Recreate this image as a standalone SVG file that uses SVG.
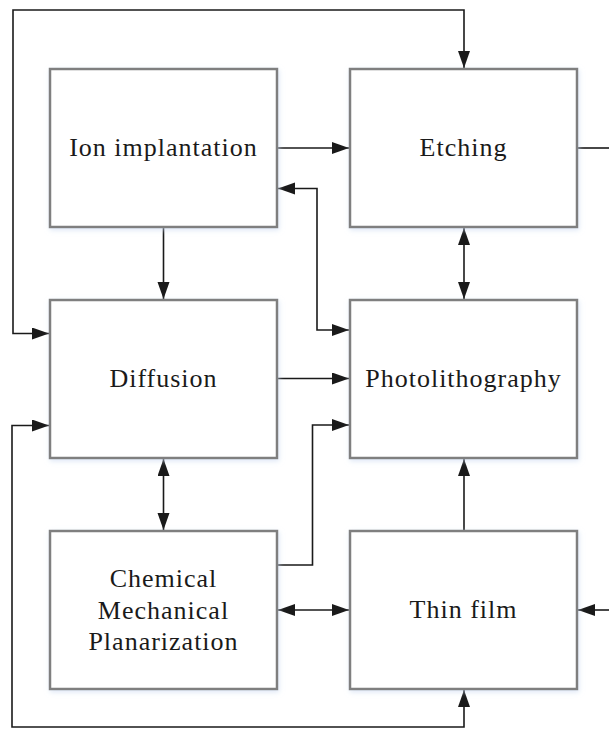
<svg xmlns="http://www.w3.org/2000/svg" width="609" height="729" viewBox="0 0 609 729">
<style>
.box{fill:#ffffff;stroke:#7f7f7f;stroke-width:2.5}
.lbl{font-family:"Liberation Serif","Times New Roman",Times,Tinos,"Noto Serif","DejaVu Serif",FreeSerif,serif;font-size:26px;letter-spacing:1px;fill:#1a1a1a;text-anchor:middle}
.c{fill:none;stroke:#1a1a1a;stroke-width:1.6}
.a{marker-end:url(#ah)}
.b{marker-start:url(#ah);marker-end:url(#ah)}
</style>
<defs>
<marker id="ah" markerUnits="userSpaceOnUse" markerWidth="18" markerHeight="13" refX="17" refY="6" orient="auto-start-reverse">
<path d="M0,0 L17,6 L0,12 z" fill="#1a1a1a"/>
</marker>
<filter id="sh" x="-10%" y="-10%" width="120%" height="120%">
<feGaussianBlur in="SourceAlpha" stdDeviation="2.5" result="b"/>
<feOffset dx="1" dy="2" result="o"/>
<feFlood flood-color="#c8d8f0" flood-opacity="0.6"/>
<feComposite in2="o" operator="in" result="s"/>
<feMerge><feMergeNode in="s"/><feMergeNode in="SourceGraphic"/></feMerge>
</filter>
</defs>
<g id="connectors">
<path class="c b" d="M49,333.5 H13 V10 H464 V68"/>
<path class="c a" d="M278,148 H349"/>
<path class="c" d="M578,148 H609"/>
<path class="c b" d="M349,330 H317 V188.5 H278"/>
<path class="c a" d="M163.5,228 V299"/>
<path class="c b" d="M464,228 V299"/>
<path class="c a" d="M278,378.5 H349"/>
<path class="c b" d="M163.5,459 V530"/>
<path class="c a" d="M278,565 H312.5 V425 H349"/>
<path class="c a" d="M464,530 V459"/>
<path class="c b" d="M278,610 H349"/>
<path class="c a" d="M609,610 H578"/>
<path class="c b" d="M49,425.5 H12 V727 H464 V690"/>
</g>
<g id="ion-implantation">
<rect class="box" x="50" y="69" width="227" height="158" filter="url(#sh)"/>
<text class="lbl" x="163.5" y="156">Ion implantation</text>
</g>
<g id="etching">
<rect class="box" x="350" y="69" width="227" height="158" filter="url(#sh)"/>
<text class="lbl" x="463.5" y="156">Etching</text>
</g>
<g id="diffusion">
<rect class="box" x="50" y="300" width="227" height="158" filter="url(#sh)"/>
<text class="lbl" x="163.5" y="387">Diffusion</text>
</g>
<g id="photolithography">
<rect class="box" x="350" y="300" width="227" height="158" filter="url(#sh)"/>
<text class="lbl" x="463.5" y="387">Photolithography</text>
</g>
<g id="cmp">
<rect class="box" x="50" y="531" width="227" height="158" filter="url(#sh)"/>
<text class="lbl" x="163.5" y="587">Chemical</text>
<text class="lbl" x="163.5" y="618.5">Mechanical</text>
<text class="lbl" x="163.5" y="650">Planarization</text>
</g>
<g id="thin-film">
<rect class="box" x="350" y="531" width="227" height="158" filter="url(#sh)"/>
<text class="lbl" x="463.5" y="618">Thin film</text>
</g>
</svg>
